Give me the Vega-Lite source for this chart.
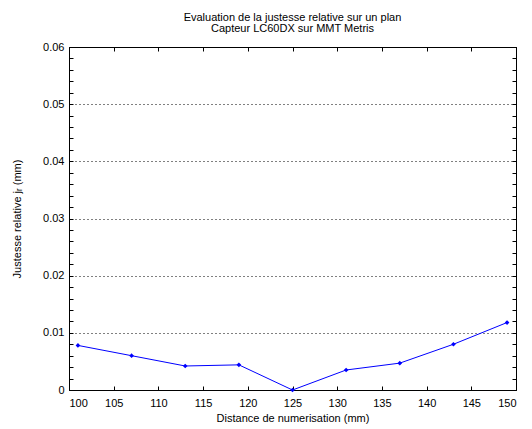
{
  "$schema": "https://vega.github.io/schema/vega-lite/v6.json",
  "autosize": {"type": "none"},
  "padding": {"left": 69, "top": 47, "right": 16, "bottom": 39},
  "width": 447,
  "height": 343,
  "background": "#ffffff",
  "title": {
    "text": ["Evaluation de la justesse relative sur un plan", "Capteur LC60DX sur MMT Metris"],
    "font": "Liberation Sans",
    "fontSize": 11,
    "fontWeight": "normal",
    "color": "#000000",
    "anchor": "middle",
    "frame": "group",
    "lineHeight": 11,
    "offset": 7
  },
  "data": {
    "values": [
      {"distance": 101, "justesse": 0.0078},
      {"distance": 107, "justesse": 0.0060},
      {"distance": 113, "justesse": 0.0042},
      {"distance": 119, "justesse": 0.0044},
      {"distance": 125, "justesse": 0.0},
      {"distance": 131, "justesse": 0.0035},
      {"distance": 137, "justesse": 0.0047},
      {"distance": 143, "justesse": 0.0080},
      {"distance": 149, "justesse": 0.0118}
    ]
  },
  "config": {
    "view": {"stroke": "#000000", "strokeWidth": 1},
    "axis": {
      "labelFont": "Liberation Sans",
      "labelFontSize": 11,
      "labelColor": "#000000",
      "titleFont": "Liberation Sans",
      "titleFontSize": 11,
      "titleFontWeight": "normal",
      "titleColor": "#000000",
      "domainColor": "#000000",
      "tickColor": "#000000",
      "tickWidth": 1,
      "tickSize": -4,
      "gridColor": "#000000",
      "gridDash": [1, 3],
      "gridWidth": 1
    }
  },
  "layer": [
    {
      "mark": {"type": "line", "color": "#0000ff", "strokeWidth": 1, "point": {"shape": "diamond", "size": 22, "filled": true, "color": "#0000ff"}},
      "encoding": {
        "x": {
          "field": "distance", "type": "quantitative",
          "scale": {"domain": [100, 150], "nice": false, "zero": false},
          "axis": {
            "orient": "bottom",
            "values": [100, 105, 110, 115, 120, 125, 130, 135, 140, 145, 150],
            "format": "d",
            "grid": false,
            "labelPadding": 11,
            "title": "Distance de numerisation (mm)",
            "titlePadding": 4
          }
        },
        "y": {
          "field": "justesse", "type": "quantitative",
          "scale": {"domain": [0, 0.06], "nice": false},
          "axis": {
            "orient": "left",
            "values": [0, 0.002, 0.004, 0.006, 0.008, 0.01, 0.012, 0.014, 0.016, 0.018, 0.02, 0.022, 0.024, 0.026, 0.028, 0.03, 0.032, 0.034, 0.036, 0.038, 0.04, 0.042, 0.044, 0.046, 0.048, 0.05, 0.052, 0.054, 0.056, 0.058, 0.06],
            "format": "~g",
            "labelExpr": "abs(round(datum.value*100) - datum.value*100) < 1e-6 ? datum.label : ''",
            "grid": false,
            "labelPadding": 9,
            "title": "Justesse relative jᵣ (mm)",
            "titlePadding": 20
          }
        }
      }
    },
    {
      "mark": {"type": "line", "opacity": 0},
      "encoding": {
        "x": {
          "field": "distance", "type": "quantitative",
          "scale": {"domain": [100, 150], "nice": false, "zero": false},
          "axis": {
            "orient": "top",
            "values": [100, 105, 110, 115, 120, 125, 130, 135, 140, 145, 150],
            "labels": false,
            "grid": false,
            "title": null
          }
        },
        "y": {
          "field": "justesse", "type": "quantitative",
          "scale": {"domain": [0, 0.06], "nice": false},
          "axis": {
            "orient": "right",
            "values": [0, 0.002, 0.004, 0.006, 0.008, 0.01, 0.012, 0.014, 0.016, 0.018, 0.02, 0.022, 0.024, 0.026, 0.028, 0.03, 0.032, 0.034, 0.036, 0.038, 0.04, 0.042, 0.044, 0.046, 0.048, 0.05, 0.052, 0.054, 0.056, 0.058, 0.06],
            "labels": false,
            "grid": true,
            "gridOpacity": {"condition": {"test": "datum.value > 0.005 && datum.value < 0.055 && abs(round(datum.value*100) - datum.value*100) < 1e-6", "value": 1}, "value": 0},
            "title": null
          }
        }
      }
    }
  ],
  "resolve": {"axis": {"x": "independent", "y": "independent"}}
}
